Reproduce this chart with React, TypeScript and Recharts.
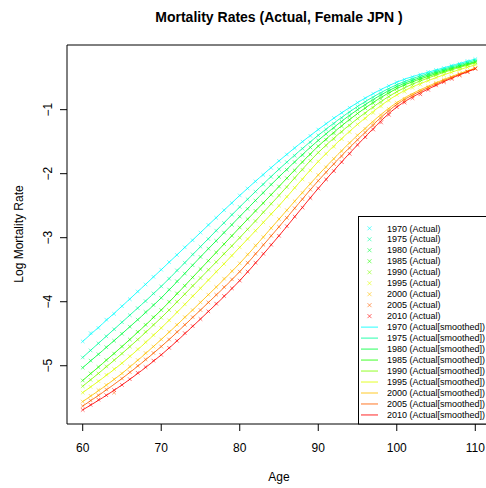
import { ComposedChart, Line, Scatter, XAxis, YAxis, ReferenceArea } from 'recharts'

const years = [1970, 1975, 1980, 1985, 1990, 1995, 2000, 2005, 2010]
const colors = ['#00FFFF', '#00FF9F', '#00FF40', '#20FF00', '#80FF00', '#DFFF00', '#FFBF00', '#FF6000', '#FF0000']

const ages = [
  60, 61, 62, 63, 64, 65, 66, 67, 68, 69, 70, 71, 72, 73, 74, 75, 76, 77, 78, 79,
  80, 81, 82, 83, 84, 85, 86, 87, 88, 89, 90, 91, 92, 93, 94, 95, 96, 97, 98, 99,
  100, 101, 102, 103, 104, 105, 106, 107, 108, 109, 110,
]
const smoothAges = [60, 65, 70, 75, 80, 85, 90, 95, 100, 105, 110]

// log mortality
const actual1970 = [-4.62, -4.49, -4.41, -4.28, -4.19, -4.07, -3.96, -3.84, -3.73, -3.61, -3.50, -3.38, -3.27, -3.15, -3.04, -2.92, -2.80, -2.69, -2.57, -2.46, -2.34, -2.23, -2.12, -2.02, -1.91, -1.80, -1.70, -1.60, -1.50, -1.41, -1.31, -1.22, -1.13, -1.05, -0.97, -0.89, -0.82, -0.75, -0.69, -0.63, -0.57, -0.53, -0.49, -0.45, -0.41, -0.38, -0.35, -0.31, -0.28, -0.24, -0.21]
const actual1975 = [-4.87, -4.76, -4.65, -4.54, -4.43, -4.32, -4.21, -4.10, -3.99, -3.87, -3.76, -3.64, -3.51, -3.39, -3.26, -3.14, -3.02, -2.89, -2.77, -2.64, -2.52, -2.40, -2.28, -2.17, -2.05, -1.93, -1.82, -1.72, -1.61, -1.51, -1.40, -1.31, -1.22, -1.13, -1.04, -0.95, -0.88, -0.81, -0.75, -0.68, -0.61, -0.57, -0.53, -0.48, -0.44, -0.40, -0.37, -0.33, -0.30, -0.26, -0.23]
const actual1980 = [-5.03, -4.92, -4.82, -4.71, -4.61, -4.50, -4.39, -4.28, -4.16, -4.05, -3.94, -3.81, -3.68, -3.56, -3.43, -3.30, -3.17, -3.05, -2.92, -2.80, -2.67, -2.55, -2.42, -2.30, -2.17, -2.05, -1.94, -1.82, -1.71, -1.59, -1.48, -1.38, -1.29, -1.19, -1.10, -1.00, -0.93, -0.86, -0.78, -0.71, -0.64, -0.60, -0.55, -0.51, -0.46, -0.42, -0.39, -0.35, -0.32, -0.28, -0.25]
const actual1985 = [-5.23, -5.12, -5.02, -4.91, -4.81, -4.70, -4.59, -4.47, -4.36, -4.24, -4.13, -4.00, -3.87, -3.75, -3.62, -3.49, -3.36, -3.23, -3.10, -2.97, -2.84, -2.71, -2.58, -2.46, -2.33, -2.20, -2.07, -1.95, -1.82, -1.70, -1.57, -1.47, -1.37, -1.26, -1.16, -1.06, -0.98, -0.90, -0.83, -0.75, -0.67, -0.62, -0.58, -0.53, -0.49, -0.44, -0.40, -0.37, -0.33, -0.30, -0.26]
const actual1990 = [-5.32, -5.22, -5.12, -5.01, -4.91, -4.81, -4.70, -4.59, -4.47, -4.36, -4.25, -4.13, -4.00, -3.88, -3.75, -3.63, -3.50, -3.38, -3.25, -3.13, -3.00, -2.87, -2.74, -2.60, -2.47, -2.34, -2.21, -2.07, -1.94, -1.80, -1.67, -1.56, -1.46, -1.35, -1.25, -1.14, -1.06, -0.97, -0.89, -0.80, -0.72, -0.67, -0.62, -0.56, -0.51, -0.46, -0.42, -0.38, -0.35, -0.31, -0.27]
const actual1995 = [-5.42, -5.33, -5.24, -5.14, -5.05, -4.96, -4.85, -4.74, -4.63, -4.52, -4.41, -4.29, -4.16, -4.04, -3.91, -3.79, -3.66, -3.53, -3.41, -3.28, -3.15, -3.02, -2.89, -2.76, -2.63, -2.50, -2.36, -2.22, -2.09, -1.95, -1.81, -1.69, -1.58, -1.46, -1.35, -1.23, -1.14, -1.05, -0.95, -0.86, -0.77, -0.72, -0.66, -0.61, -0.55, -0.50, -0.46, -0.42, -0.38, -0.34, -0.30]
const actual2000 = [-5.56, -5.47, -5.38, -5.30, -5.21, -5.12, -5.01, -4.91, -4.80, -4.70, -4.59, -4.47, -4.36, -4.24, -4.13, -4.01, -3.89, -3.77, -3.64, -3.52, -3.40, -3.26, -3.12, -2.99, -2.85, -2.71, -2.57, -2.43, -2.30, -2.16, -2.02, -1.90, -1.77, -1.65, -1.52, -1.40, -1.30, -1.20, -1.09, -0.99, -0.89, -0.83, -0.77, -0.70, -0.64, -0.58, -0.53, -0.49, -0.44, -0.40, -0.35]
const actual2005 = [-5.63, -5.54, -5.46, -5.37, -5.42, -5.20, -5.10, -5.00, -4.90, -4.80, -4.70, -4.59, -4.47, -4.36, -4.24, -4.13, -4.01, -3.89, -3.77, -3.65, -3.53, -3.39, -3.25, -3.11, -2.97, -2.83, -2.69, -2.54, -2.40, -2.25, -2.11, -1.98, -1.85, -1.73, -1.60, -1.47, -1.36, -1.25, -1.14, -1.03, -0.92, -0.86, -0.79, -0.73, -0.66, -0.60, -0.55, -0.50, -0.46, -0.41, -0.36]
const actual2010 = [-5.69, -5.61, -5.53, -5.46, -5.38, -5.30, -5.21, -5.11, -5.02, -4.92, -4.83, -4.72, -4.61, -4.49, -4.38, -4.27, -4.15, -4.03, -3.91, -3.79, -3.67, -3.53, -3.39, -3.25, -3.11, -2.97, -2.82, -2.67, -2.53, -2.38, -2.23, -2.09, -1.96, -1.82, -1.69, -1.55, -1.43, -1.31, -1.20, -1.08, -0.96, -0.89, -0.82, -0.76, -0.69, -0.62, -0.57, -0.52, -0.46, -0.41, -0.36]

const smooth1970 = [-4.62, -4.07, -3.50, -2.92, -2.34, -1.80, -1.31, -0.89, -0.57, -0.38, -0.21]
const smooth1975 = [-4.87, -4.32, -3.76, -3.14, -2.52, -1.93, -1.40, -0.95, -0.61, -0.40, -0.23]
const smooth1980 = [-5.03, -4.50, -3.94, -3.30, -2.67, -2.05, -1.48, -1.00, -0.64, -0.42, -0.25]
const smooth1985 = [-5.23, -4.70, -4.13, -3.49, -2.84, -2.20, -1.57, -1.06, -0.67, -0.44, -0.26]
const smooth1990 = [-5.32, -4.81, -4.25, -3.63, -3.00, -2.34, -1.67, -1.14, -0.72, -0.46, -0.27]
const smooth1995 = [-5.42, -4.96, -4.41, -3.79, -3.15, -2.50, -1.81, -1.23, -0.77, -0.50, -0.30]
const smooth2000 = [-5.56, -5.12, -4.59, -4.01, -3.40, -2.71, -2.02, -1.40, -0.89, -0.58, -0.35]
const smooth2005 = [-5.63, -5.20, -4.70, -4.13, -3.53, -2.83, -2.11, -1.47, -0.92, -0.60, -0.36]
const smooth2010 = [-5.69, -5.30, -4.83, -4.27, -3.67, -2.97, -2.23, -1.55, -0.96, -0.62, -0.36]

const actualSets = [actual1970, actual1975, actual1980, actual1985, actual1990, actual1995, actual2000, actual2005, actual2010]
const smoothSets = [smooth1970, smooth1975, smooth1980, smooth1985, smooth1990, smooth1995, smooth2000, smooth2005, smooth2010]

const xTicks = [60, 70, 80, 90, 100, 110]
const yTicks = [-5, -4, -3, -2, -1]

const font = '"Liberation Sans", Arial, Helvetica, sans-serif'

const fmt = (v: number) => (v < 0 ? '\u2212' + Math.abs(v) : String(v))

function XMark(props: any) {
  const { cx, cy, fill } = props
  const r = 1.8
  return (
    <g stroke={fill} strokeOpacity={0.55} strokeWidth={1}>
      <line x1={cx - r} y1={cy - r} x2={cx + r} y2={cy + r} />
      <line x1={cx - r} y1={cy + r} x2={cx + r} y2={cy - r} />
    </g>
  )
}

function YTick(props: any) {
  const { x, y, payload } = props
  const tx = x - 6
  return (
    <text x={tx} y={y} transform={`rotate(-90, ${tx}, ${y})`} textAnchor="middle" fontSize={12} fontFamily={font} fill="#000">
      {fmt(payload.value)}
    </text>
  )
}

export default function App() {
  const actual = actualSets.map(s => s.map((v, i) => ({ age: ages[i], value: v })))
  const smooth = smoothSets.map(s => s.map((v, i) => ({ age: smoothAges[i], value: v })))

  const rowY = (i: number) => 228.3 + i * 10.98

  return (
    <div style={{ position: 'absolute', left: 0, top: 0, width: 486, height: 488, overflow: 'hidden', background: '#fff' }}>
      <ComposedChart width={500} height={488} margin={{ top: 45, right: 9, bottom: 24, left: 7 }}>
        <XAxis
          type="number" dataKey="age" domain={[58, 112]} ticks={xTicks}
          axisLine={false} tickSize={7} tickMargin={12} height={40}
          tick={{ fontSize: 12, fontFamily: font, fill: '#000' }} stroke="#000"
          allowDataOverflow
        />
        <YAxis
          type="number" dataKey="value" domain={[-5.91, 0.01]} ticks={yTicks}
          axisLine={false} tickSize={7} width={60} tick={<YTick />} stroke="#000"
          allowDataOverflow
        />
        <ReferenceArea x1={58} x2={112} y1={-5.91} y2={0.01} fill="none" stroke="#000" strokeWidth={1} ifOverflow="visible" />
        {smooth.map((d, i) => (
          <Line
            key={'s' + years[i]} data={d} dataKey="value" type="monotone"
            stroke={colors[i]} strokeOpacity={0.85} strokeWidth={1} dot={false}
            isAnimationActive={false}
          />
        ))}
        {actual.map((d, i) => (
          <Scatter
            key={'a' + years[i]} data={d} dataKey="value" fill={colors[i]}
            shape={<XMark />} isAnimationActive={false}
          />
        ))}
      </ComposedChart>
      <svg width={486} height={488} style={{ position: 'absolute', left: 0, top: 0, pointerEvents: 'none' }} fontFamily={font}>
        <text x={279} y={22} textAnchor="middle" fontSize={14} fontWeight="bold">Mortality Rates (Actual, Female JPN )</text>
        <text x={279} y={481} textAnchor="middle" fontSize={12}>Age</text>
        <text x={23} y={234} transform="rotate(-90, 23, 234)" textAnchor="middle" fontSize={12}>Log Mortality Rate</text>
        <rect x={358.5} y={216.5} width={140} height={207.5} fill="#fff" stroke="#000" strokeWidth={1} />
        {years.map((yr, i) => (
          <g key={'la' + yr}>
            <g stroke={colors[i]} strokeOpacity={0.6} strokeWidth={1}>
              <line x1={367.5} y1={rowY(i) - 2} x2={371.5} y2={rowY(i) + 2} />
              <line x1={367.5} y1={rowY(i) + 2} x2={371.5} y2={rowY(i) - 2} />
            </g>
            <text x={387} y={rowY(i) + 3.2} fontSize={9}>{yr} (Actual)</text>
          </g>
        ))}
        {years.map((yr, i) => (
          <g key={'ls' + yr}>
            <line x1={361} y1={rowY(i + 9)} x2={378} y2={rowY(i + 9)} stroke={colors[i]} strokeOpacity={0.85} />
            <text x={387} y={rowY(i + 9) + 3.2} fontSize={9}>{yr} (Actual[smoothed])</text>
          </g>
        ))}
      </svg>
    </div>
  )
}
